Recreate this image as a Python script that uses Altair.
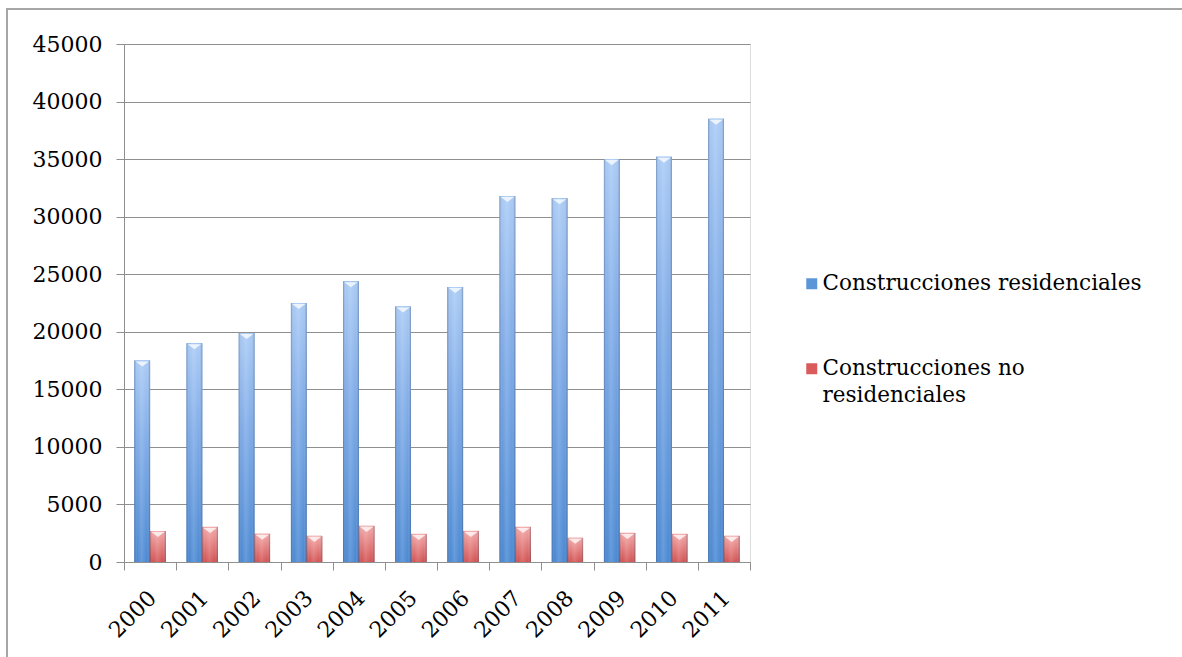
import altair as alt
import pandas as pd

years = ["2000", "2001", "2002", "2003", "2004", "2005",
         "2006", "2007", "2008", "2009", "2010", "2011"]
residenciales = [17500, 19000, 19900, 22500, 24400, 22200,
                 23900, 31800, 31600, 35000, 35200, 38500]
no_residenciales = [2700, 3050, 2450, 2270, 3140, 2440,
                    2700, 3050, 2100, 2530, 2440, 2270]
series = ["Construcciones residenciales", "Construcciones no residenciales"]
y_ticks = [0, 5000, 10000, 15000, 20000, 25000, 30000, 35000, 40000, 45000]

rows = []
for i, yr in enumerate(years):
    rows.append({"year": yr, "serie": series[0], "value": residenciales[i]})
    rows.append({"year": yr, "serie": series[1], "value": no_residenciales[i]})
df = pd.DataFrame(rows)

FONT = "DejaVu Serif"
GREY = "#8f8f8f"

x_enc = alt.X("year:N", sort=years, title=None,
              scale=alt.Scale(paddingInner=0, paddingOuter=0),
              axis=alt.Axis(labelAngle=315, labelAlign="right", labelBaseline="top",
                            tickBand="extent", tickSize=8, labelPadding=17, labelOffset=-5,
                            domainColor=GREY, tickColor=GREY, labelColor="black",
                            labelFont=FONT, labelFontSize=22, grid=False))
xo_enc = alt.XOffset("serie:N", sort=series,
                     scale=alt.Scale(domain=series, paddingOuter=0.667, paddingInner=0))
y_enc = alt.Y("value:Q", title=None,
              scale=alt.Scale(domain=[0, 45000], nice=False),
              axis=alt.Axis(values=y_ticks, format="d", tickSize=8, labelPadding=14,
                            domainColor=GREY, tickColor=GREY, gridColor=GREY,
                            labelColor="black", labelFont=FONT, labelFontSize=22,
                            grid=True))

base = alt.Chart(df).encode(x=x_enc, xOffset=xo_enc, y=y_enc)

legend_bars = base.mark_bar().encode(
    color=alt.Color("serie:N", sort=series,
                    scale=alt.Scale(domain=series, range=["#5b96d8", "#d95b5b"]),
                    legend=alt.Legend(
                        title=None, orient="none", legendX=677, legendY=229,
                        symbolType="square", symbolSize=121, symbolStrokeWidth=0,
                        labelFont=FONT, labelFontSize=21.5, labelColor="black",
                        labelLimit=500, labelOffset=0, rowPadding=62, padding=0,
                        labelExpr="datum.label == 'Construcciones no residenciales' ? ['Construcciones no', 'residenciales'] : datum.label"))
)

blue_grad = alt.Gradient(gradient="linear", x1=0, y1=0, x2=0, y2=1, stops=[
    alt.GradientStop(color="#a9caf5", offset=0),
    alt.GradientStop(color="#80ace8", offset=0.4),
    alt.GradientStop(color="#4b89d3", offset=1)])
red_grad = alt.Gradient(gradient="linear", x1=0, y1=0, x2=0, y2=1, stops=[
    alt.GradientStop(color="#f4a8a8", offset=0),
    alt.GradientStop(color="#d25252", offset=1)])
side_grad = alt.Gradient(gradient="linear", x1=0, y1=0, x2=1, y2=0, stops=[
    alt.GradientStop(color="rgba(30,40,70,0.35)", offset=0),
    alt.GradientStop(color="rgba(255,255,255,0.0)", offset=0.18),
    alt.GradientStop(color="rgba(255,255,255,0.15)", offset=0.45),
    alt.GradientStop(color="rgba(255,255,255,0.0)", offset=0.8),
    alt.GradientStop(color="rgba(30,40,70,0.35)", offset=1)])

blue_bars = base.transform_filter(alt.datum.serie == series[0]).mark_bar(color=blue_grad)
red_bars = base.transform_filter(alt.datum.serie == series[1]).mark_bar(color=red_grad)
side = base.mark_bar(color=side_grad)
tops = base.mark_point(shape="M-1,0L1,0L0,0.75Z", size=180, filled=True,
                       color="white", opacity=0.75, yOffset=1)

frame = alt.Chart(pd.DataFrame({"f": [0]})).mark_rect(
    fill=None, stroke="#a6a6a6", strokeWidth=2
).encode(x=alt.value(-117), x2=alt.value(1100), y=alt.value(-35), y2=alt.value(700))

chart = alt.layer(frame, legend_bars, blue_bars, red_bars, side, tops).properties(
    width=626, height=518,
    padding={"left": 124, "top": 44, "right": 432, "bottom": 95},
    autosize=alt.AutoSizeParams(type="none"),
).configure_view(stroke=None).configure(style={"guide-label": {"lineHeight": 27}})

chart.save("out.html", embed_options={"renderer": "svg", "actions": False})
